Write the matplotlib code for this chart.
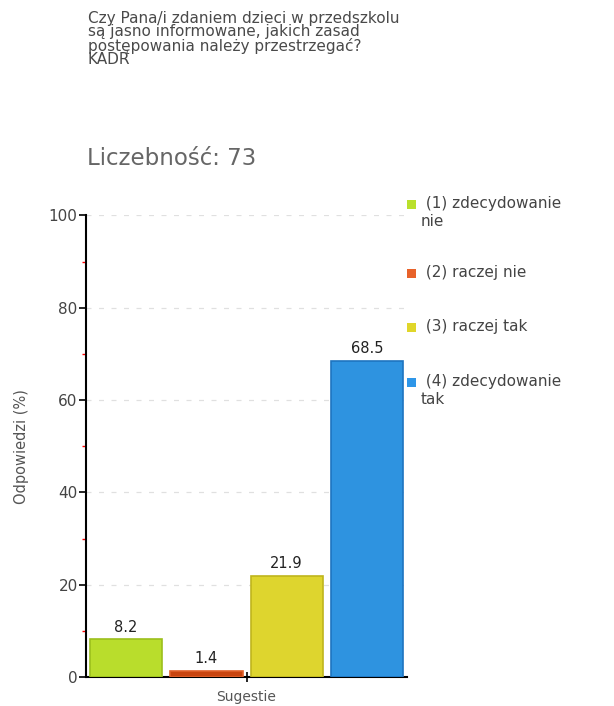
import numpy as np
import matplotlib.pyplot as plt
from matplotlib.patches import Rectangle

# dane
kategorie = [' (1) zdecydowanie\nnie', ' (2) raczej nie', ' (3) raczej tak', ' (4) zdecydowanie\ntak']
wartosci = [8.2, 1.4, 21.9, 68.5]
kolory = ['#b9dd2c', '#c8440f', '#ded52e', '#2e93e0']
krawedzie = ['#9cbf1c', '#e0602a', '#bfb51c', '#1e74c0']
kolory_legendy = ['#b9e02c', '#e8622a', '#e0d62a', '#2e96e8']
tytul = 'Czy Pana/i zdaniem dzieci w przedszkolu\nsą jasno informowane, jakich zasad\npostępowania należy przestrzegać?\nKADR'
liczebnosc = 'Liczebność: 73'

plt.rcParams['font.family'] = ['DejaVu Sans']
W, H = 614, 706
fig = plt.figure(figsize=(W / 100, H / 100), dpi=100)
ax = fig.add_axes([0.140, 0.041, 0.523, 0.654])

x = np.arange(len(wartosci)) + 0.5
ax.bar(x, wartosci, width=0.9, color=kolory, edgecolor=krawedzie, linewidth=1.2, zorder=3)
for xi, v in zip(x, wartosci):
    ax.text(xi, v + 1.0, f'{v:.1f}', ha='center', va='bottom', fontsize=10.5, color='#222222')

ax.set_xlim(0, 4)
ax.set_ylim(0, 100)
ax.set_xticks([2])
ax.set_xticklabels(['Sugestie'], color='#555555', fontsize=10)
ax.set_yticks([0, 20, 40, 60, 80, 100])
ax.set_yticklabels(['0', '20', '40', '60', '80', '100'], color='#444444', fontsize=11)
ax.set_yticks([10, 30, 50, 70, 90], minor=True)
ax.tick_params(axis='y', which='major', length=5, width=1.2, color='black', pad=1)
ax.tick_params(axis='y', which='minor', length=3, width=1, color='red')
ax.tick_params(axis='x', length=7, width=1.2, direction='inout', pad=6)
ax.set_ylabel('Odpowiedzi (%)', color='#555555', fontsize=10.5, labelpad=14)
for y in [20, 40, 60, 80, 100]:
    ax.axhline(y, color='#e0e0e0', linestyle=(0, (4, 6)), linewidth=0.9, zorder=1)
ax.spines['top'].set_visible(False)
ax.spines['right'].set_visible(False)
ax.spines['left'].set_linewidth(1.5)
ax.spines['bottom'].set_linewidth(1.5)

# legenda rysowana recznie
leg_y = [204, 273, 327, 382]
for yy, c, lab in zip(leg_y, kolory_legendy, kategorie):
    fig.patches.append(Rectangle((407 / W, 1 - (yy + 5) / H), 9 / W, 9 / H,
                                 transform=fig.transFigure, facecolor=c, edgecolor='none'))
    fig.text(421 / W, 1 - (yy - 8) / H, lab, ha='left', va='top', fontsize=11,
             color='#444444', linespacing=1.25)

fig.text(0.143, 0.985, tytul, ha='left', va='top', fontsize=11, color='#4a4a4a',
         linespacing=0.88)
fig.text(0.141, 0.776, liczebnosc, ha='left', va='center', fontsize=16.5, color='#666666')

fig.savefig('out.png', dpi=100)
